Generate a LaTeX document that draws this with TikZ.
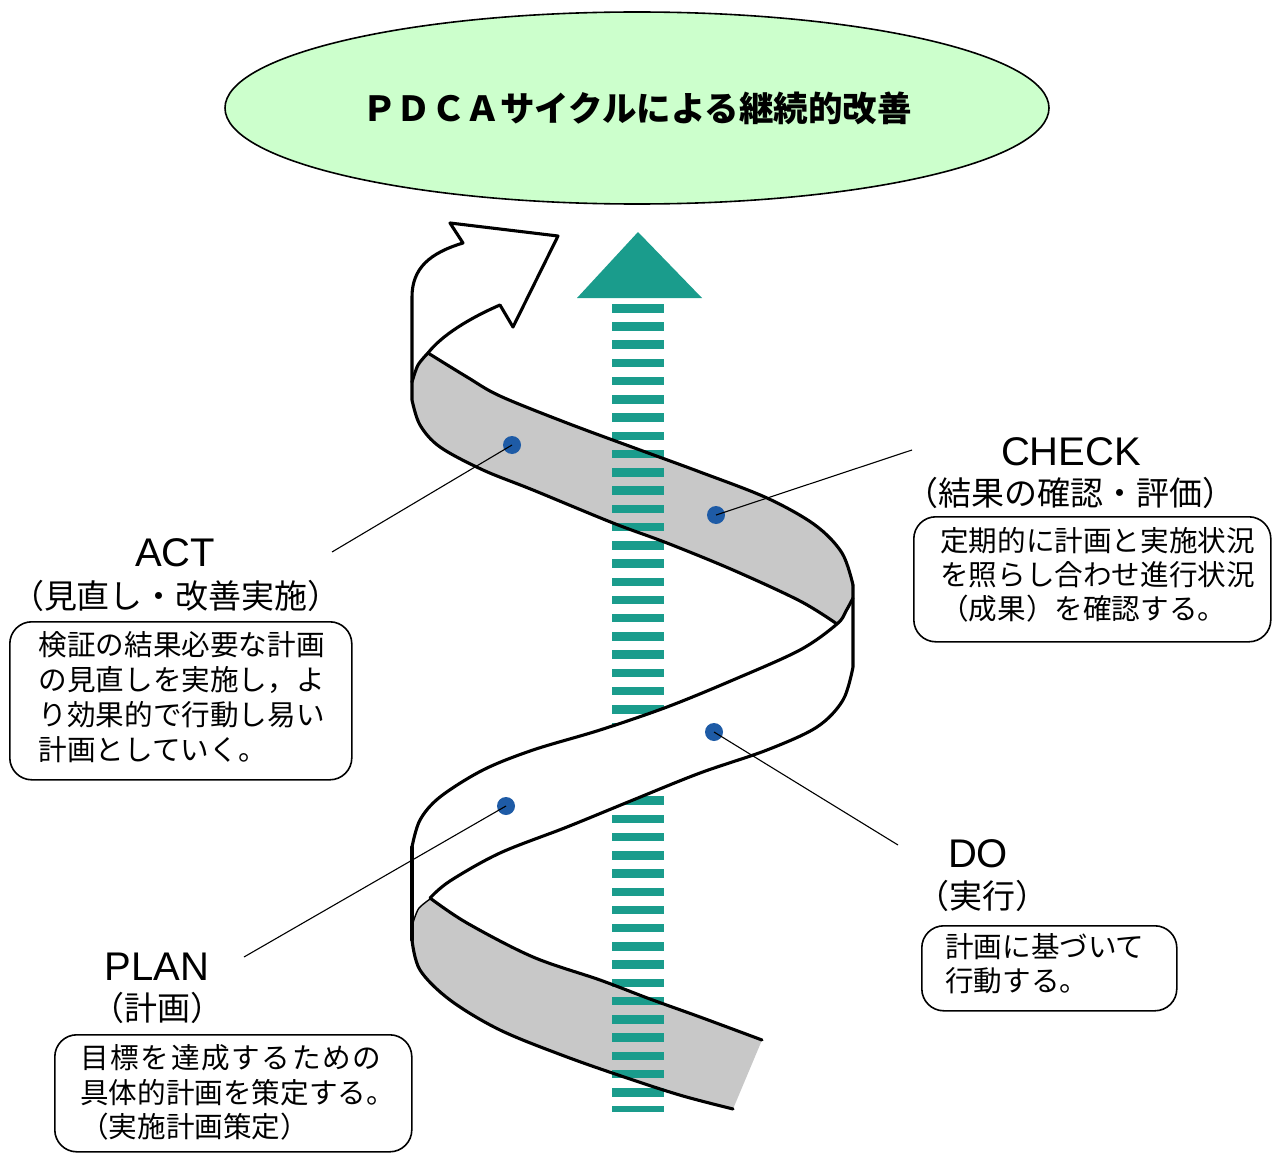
\documentclass[tikz,border=0pt]{standalone}
\usepackage{fontspec}
\setmainfont{Noto Sans CJK JP}
\newfontfamily\latinfont{Liberation Sans}
\usetikzlibrary{shapes.geometric}
\definecolor{ellgreen}{HTML}{CCFFCC}
\definecolor{bandgray}{HTML}{C8C8C8}
\definecolor{tealc}{HTML}{1A9C8C}
\definecolor{dotblue}{HTML}{1E5BA6}
\tikzset{
 rib/.style={line width=3.1pt, line join=round, line cap=round},
 dotnode/.style={circle, fill=dotblue, inner sep=0pt, minimum size=18pt},
 leader/.style={line width=1.1pt},
 engl/.style={font=\latinfont\fontsize{40}{48}\selectfont, inner sep=0pt, anchor=base},
 paren/.style={font=\fontsize{33}{40}\selectfont, inner sep=0pt},
 boxtxt/.style={font=\fontsize{28.6}{35}\selectfont, inner sep=0pt, anchor=west},
 rbox/.style={draw, line width=1.6pt, rounded corners=22pt, anchor=north west, inner sep=0pt},
}
\begin{document}
\begin{tikzpicture}[x=1pt,y=-1pt]
\useasboundingbox (0,0) rectangle (1272,1153);

% title ellipse
\node[ellipse, draw, line width=1.6pt, fill=ellgreen, minimum width=824pt, minimum height=192pt, inner sep=0pt,
      font=\fontsize{34.5}{40}\selectfont\bfseries] (title) at (637,108) {ＰＤＣＡサイクルによる継続的改善};

% top curved arrow
\draw[rib, fill=white] (412,382) -- (412,297) .. controls (412,268) and (430,253) .. (463,243)
  -- (450,223) -- (558,236) -- (513,327) -- (500,305) .. controls (470,318) and (442,335) .. (428,353);

% upper gray band fill
\fill[bandgray] plot[smooth,tension=.55] coordinates {(428,353) (467,377) (500,396) (567,423) (640,450) (700,472) (767,498) (815,525) (842,553) (853,585)}
  -- (853,598)
  -- plot[smooth] coordinates {(853,598) (846,611) (837,624)}
  -- plot[smooth,tension=.55] coordinates {(837,624) (800,601) (733,570) (667,543) (613,523) (533,490) (483,470) (440,447) (420,425) (412,400)}
  -- (412,382) -- plot[smooth] coordinates {(412,382) (418,365) (428,353)} -- cycle;

% lower gray band fill
\fill[bandgray] plot[smooth,tension=.55] coordinates {(430,898) (467,923) (533,957) (600,980) (650,999) (700,1017) (762,1040)}
  -- (733,1109)
  -- plot[smooth,tension=.55] coordinates {(733,1109) (683,1096) (633,1080) (567,1057) (500,1030) (450,1000) (420,970) (412,940)}
  -- (412,923) -- plot[smooth] coordinates {(412,923) (418,908) (430,898)} -- cycle;

% teal arrow
\fill[tealc] (638,232) -- (702,298) -- (577,298) -- cycle;
\begin{scope}
\clip (600,300) rectangle (680,1111);
\foreach \i in {0,...,44} {\fill[tealc] (612,{304+18.235*\i}) rectangle (664,{312.5+18.235*\i});}
\end{scope}

% gray band outlines
\draw[rib] plot[smooth,tension=.55] coordinates {(428,353) (467,377) (500,396) (567,423) (640,450) (700,472) (767,498) (815,525) (842,553) (853,585)};
\draw[rib] plot[smooth] coordinates {(428,353) (418,365) (412,382)};
\draw[rib] (412,382) -- (412,400) -- plot[smooth,tension=.55] coordinates {(412,400) (420,425) (440,447) (483,470) (533,490) (613,523) (667,543) (733,570) (800,601) (837,624)};
\draw[rib] plot[smooth,tension=.55] coordinates {(430,898) (467,923) (533,957) (600,980) (650,999) (700,1017) (762,1040)};
\draw[rib] plot[smooth,tension=.55] coordinates {(733,1109) (683,1096) (633,1080) (567,1057) (500,1030) (450,1000) (420,970) (412,940)};
\draw[rib] plot[smooth] coordinates {(412,923) (418,908) (430,898)};

% white front band
\fill[white] (412,847) -- (412,923) -- plot[smooth] coordinates {(412,923) (418,908) (430,898)}
  -- plot[smooth,tension=.55] coordinates {(430,898) (450,881) (500,853) (567,827) (633,800) (700,773) (767,750) (817,727) (843,700) (853,667)}
  -- (853,598)
  -- plot[smooth,tension=.55] coordinates {(853,598) (846,611) (837,624) (800,650) (733,680) (667,707) (600,730) (533,750) (483,770) (440,797) (420,820) (412,847)} -- cycle;
\draw[rib] plot[smooth,tension=.55] coordinates {(430,898) (450,881) (500,853) (567,827) (633,800) (700,773) (767,750) (817,727) (843,700) (853,667)} -- (853,585);
\draw[rib] plot[smooth,tension=.55] coordinates {(853,598) (846,611) (837,624) (800,650) (733,680) (667,707) (600,730) (533,750) (483,770) (440,797) (420,820) (412,847)};
\draw[rib] (412,847) -- (412,940);

% dots and leaders
\node[dotnode] (pA) at (512,445) {};
\node[dotnode] (pC) at (716,515) {};
\node[dotnode] (pD) at (714,732) {};
\node[dotnode] (pP) at (506,806) {};
\coordinate (cA) at (332,552);
\coordinate (cC) at (912,450);
\coordinate (cD) at (898,845);
\coordinate (cP) at (244,957);
\draw[leader] (pA.center) -- (cA);
\draw[leader] (pC.center) -- (cC);
\draw[leader] (pD.center) -- (cD);
\draw[leader] (pP.center) -- (cP);

% ACT
\node[engl] (actT) at (175,566) {ACT};
\node[paren] (actP) at (176,596) {（見直し・改善実施）};
\node[rbox, minimum width=342pt, minimum height=158pt] (actB) at (9,621) {};
\node[boxtxt] (act1) at (38.5,645) {検証の結果必要な計画};
\node[boxtxt] (act2) at (38.5,680) {の見直しを実施し，よ};
\node[boxtxt] (act3) at (38.5,715) {り効果的で行動し易い};
\node[boxtxt] (act4) at (38.5,750) {計画としていく。};

% CHECK
\node[engl] (chkT) at (1071,465) {CHECK};
\node[paren] (chkP) at (1070,493) {（結果の確認・評価）};
\node[rbox, minimum width=357pt, minimum height=125pt] (chkB) at (913,516) {};
\node[boxtxt] (chk1) at (940,541) {定期的に計画と実施状況};
\node[boxtxt] (chk2) at (940,575) {を照らし合わせ進行状況};
\node[boxtxt] (chk3) at (940,609) {（成果）を確認する。};

% DO
\node[engl] (doT) at (978,867) {DO};
\node[paren] (doP) at (982,896) {（実行）};
\node[rbox, minimum width=255pt, minimum height=85pt] (doB) at (921,925) {};
\node[boxtxt] (do1) at (945,947) {計画に基づいて};
\node[boxtxt] (do2) at (945,981) {行動する。};

% PLAN
\node[engl] (plT) at (157,980) {PLAN};
\node[paren] (plP) at (157,1008) {（計画）};
\node[rbox, minimum width=357pt, minimum height=117pt] (plB) at (54,1034) {};
\node[boxtxt] (pl1) at (80,1058) {目\kern1.7pt 標\kern1.7pt を\kern1.7pt 達\kern1.7pt 成\kern1.7pt す\kern1.7pt る\kern1.7pt た\kern1.7pt め\kern1.7pt の};
\node[boxtxt] (pl2) at (80,1093) {具体的計画を策定する。};
\node[boxtxt] (pl3) at (80,1127) {（実施計画策定）};
\end{tikzpicture}
\end{document}
